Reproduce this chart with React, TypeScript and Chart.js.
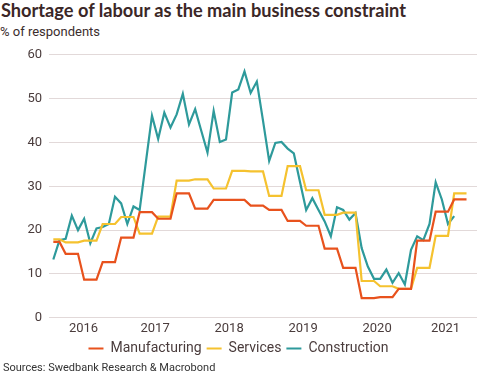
import React, { useEffect, useRef } from "react";
import { Chart, registerables } from "chart.js";

Chart.register(...registerables);

// Monthly observations, first point = Feb 2016
const firstYear = 2016;
const firstMonth = 2; // February
const yearLabels = ["2016", "2017", "2018", "2019", "2020", "2021"];

const manufacturing = [
  17.3, 17.3,
  14.6, 14.6, 14.6,
  8.7, 8.7, 8.7,
  12.7, 12.7, 12.7,
  18.3, 18.3, 18.3,
  24.1, 24.1, 24.1,
  22.6, 22.6, 22.6,
  28.4, 28.4, 28.4,
  24.9, 24.9, 24.9,
  26.9, 26.9, 26.9,
  26.9, 26.9, 26.9,
  25.6, 25.6, 25.6,
  24.6, 24.6, 24.6,
  22.1, 22.1, 22.1,
  21.0, 21.0, 21.0,
  15.8, 15.8, 15.8,
  11.4, 11.4, 11.4,
  4.5, 4.5, 4.5,
  4.7, 4.7, 4.7,
  6.6, 6.6, 6.6,
  17.6, 17.6, 17.6,
  24.2, 24.2, 24.2,
  27.0, 27.0, 27.0,
];

const services = [
  17.9, 17.9,
  17.2, 17.2, 17.2,
  17.6, 17.6, 17.6,
  21.4, 21.4, 21.4,
  23.0, 23.0, 23.0,
  19.2, 19.2, 19.2,
  23.1, 23.1, 23.1,
  31.3, 31.3, 31.3,
  31.6, 31.6, 31.6,
  29.5, 29.5, 29.5,
  33.5, 33.5, 33.5,
  33.4, 33.4, 33.4,
  27.8, 27.8, 27.8,
  34.6, 34.6, 34.6,
  29.1, 29.1, 29.1,
  23.5, 23.5, 23.5,
  24.0, 24.0, 24.0,
  8.4, 8.4, 8.4,
  7.2, 7.2, 7.2,
  6.6, 6.6, 6.6,
  11.4, 11.4, 11.4,
  18.7, 18.7, 18.7,
  28.4, 28.4, 28.4,
];

const construction = [
  13.3, 17.7, 18.0, 23.3, 20.0, 22.6, 17.0, 20.4, 20.7, 21.4,
  27.6, 26.1, 21.4, 25.4, 24.6, 35.4, 46.1, 40.8, 46.8, 43.4,
  46.4, 51.1, 44.1, 47.6, 42.6, 37.7, 47.2, 40.1, 40.7, 51.4,
  52.1, 56.2, 51.3, 53.9, 45.0, 35.8, 39.9, 40.1, 38.6, 37.5,
  31.0, 24.6, 27.3, 24.6, 22.0, 18.6, 25.2, 24.6, 22.4, 23.9,
  15.9, 11.7, 8.9, 8.9, 11.0, 8.0, 10.2, 7.6, 15.5, 18.6,
  17.7, 21.4, 30.9, 27.0, 21.4, 23.2,
];

const seriesNames = ["Manufacturing", "Services", "Construction"];
const seriesColors = ["#e8521d", "#f5c22f", "#2e9a9b"];

const X_MIN = -0.7;
const X_MAX = 68.7;

const toPoints = (arr: number[]) => arr.map((v, i) => ({ x: i, y: v }));

// centre of the visible part of each calendar year (in month-index units)
const yearTickValues = yearLabels.map((_, k) => {
  const start = k * 12 - (firstMonth - 1) - 0.5;
  const end = start + 12;
  const a = Math.max(start, X_MIN);
  const b = Math.min(end, X_MAX);
  return (a + b) / 2;
});

const FONT = "Roboto, 'Noto Sans', sans-serif";
const TEXT = "#4a3c3c";

export default function App() {
  const ref = useRef<HTMLCanvasElement | null>(null);

  useEffect(() => {
    if (!ref.current) return;
    const chart = new Chart(ref.current, {
      type: "line",
      data: {
        datasets: [manufacturing, services, construction].map((arr, i) => ({
          label: seriesNames[i],
          data: toPoints(arr),
          borderColor: seriesColors[i],
          backgroundColor: seriesColors[i],
          borderWidth: 2.2,
          pointRadius: 0,
          tension: 0,
          fill: false,
        })),
      },
      options: {
        animation: false,
        responsive: false,
        maintainAspectRatio: false,
        layout: { padding: { left: 0, right: 14, top: 11, bottom: 2.6 } },
        plugins: {
          tooltip: { enabled: false },
          legend: {
            position: "bottom",
            labels: {
              color: TEXT,
              font: { family: FONT, size: 14 },
              boxWidth: 15,
              boxHeight: 2,
              padding: 5,
              generateLabels: (c: any) =>
                c.data.datasets.map((d: any, i: number) => ({
                  text: d.label,
                  fillStyle: d.borderColor,
                  strokeStyle: d.borderColor,
                  lineWidth: 0,
                  fontColor: TEXT,
                  datasetIndex: i,
                  hidden: false,
                })),
            },
          },
        },
        scales: {
          x: {
            type: "linear",
            min: X_MIN,
            max: X_MAX,
            grid: { display: false, drawTicks: false },
            border: { display: false },
            afterBuildTicks: (s: any) => {
              s.ticks = yearTickValues.map((v) => ({ value: v }));
            },
            afterFit: (s: any) => {
              s.height = 18.6;
            },
            ticks: {
              autoSkip: false,
              maxRotation: 0,
              padding: 3,
              color: TEXT,
              font: { family: FONT, size: 13 },
              callback: (v: any) => {
                const idx = yearTickValues.findIndex((t) => Math.abs(t - v) < 1e-6);
                return idx >= 0 ? yearLabels[idx] : "";
              },
            },
          },
          y: {
            min: 0,
            max: 60,
            grid: { color: "#e2d9d9", lineWidth: 1, drawTicks: false },
            border: { display: false },
            afterFit: (s: any) => {
              s.width = 49;
            },
            ticks: {
              stepSize: 10,
              padding: 7,
              color: TEXT,
              font: { family: FONT, size: 13 },
            },
          },
        },
      },
    });
    return () => chart.destroy();
  }, []);

  return (
    <div
      style={{
        position: "fixed",
        left: 0,
        top: 0,
        width: 491,
        height: 377,
        background: "#ffffff",
        overflow: "hidden",
      }}
    >
      <div
        style={{
          position: "absolute",
          left: 1,
          top: 0,
          fontFamily: "Lato, 'Open Sans', sans-serif",
          fontWeight: 700,
          fontSize: 18.2,
          lineHeight: "21px",
          color: "#3b2727",
          whiteSpace: "nowrap",
        }}
      >
        Shortage of labour as the main business constraint
      </div>
      <div
        style={{
          position: "absolute",
          left: 0,
          top: 24,
          fontFamily: FONT,
          fontSize: 13,
          lineHeight: "16px",
          color: "#3b2d2d",
          whiteSpace: "nowrap",
        }}
      >
        % of respondents
      </div>
      <canvas
        ref={ref}
        width={491}
        height={328}
        style={{ position: "absolute", left: 0, top: 40, width: 491, height: 328 }}
      />
      <div
        style={{
          position: "absolute",
          left: 3,
          top: 361,
          fontFamily: FONT,
          fontSize: 11,
          lineHeight: "14px",
          color: "#333333",
          whiteSpace: "nowrap",
        }}
      >
        Sources: Swedbank Research &amp; Macrobond
      </div>
    </div>
  );
}
